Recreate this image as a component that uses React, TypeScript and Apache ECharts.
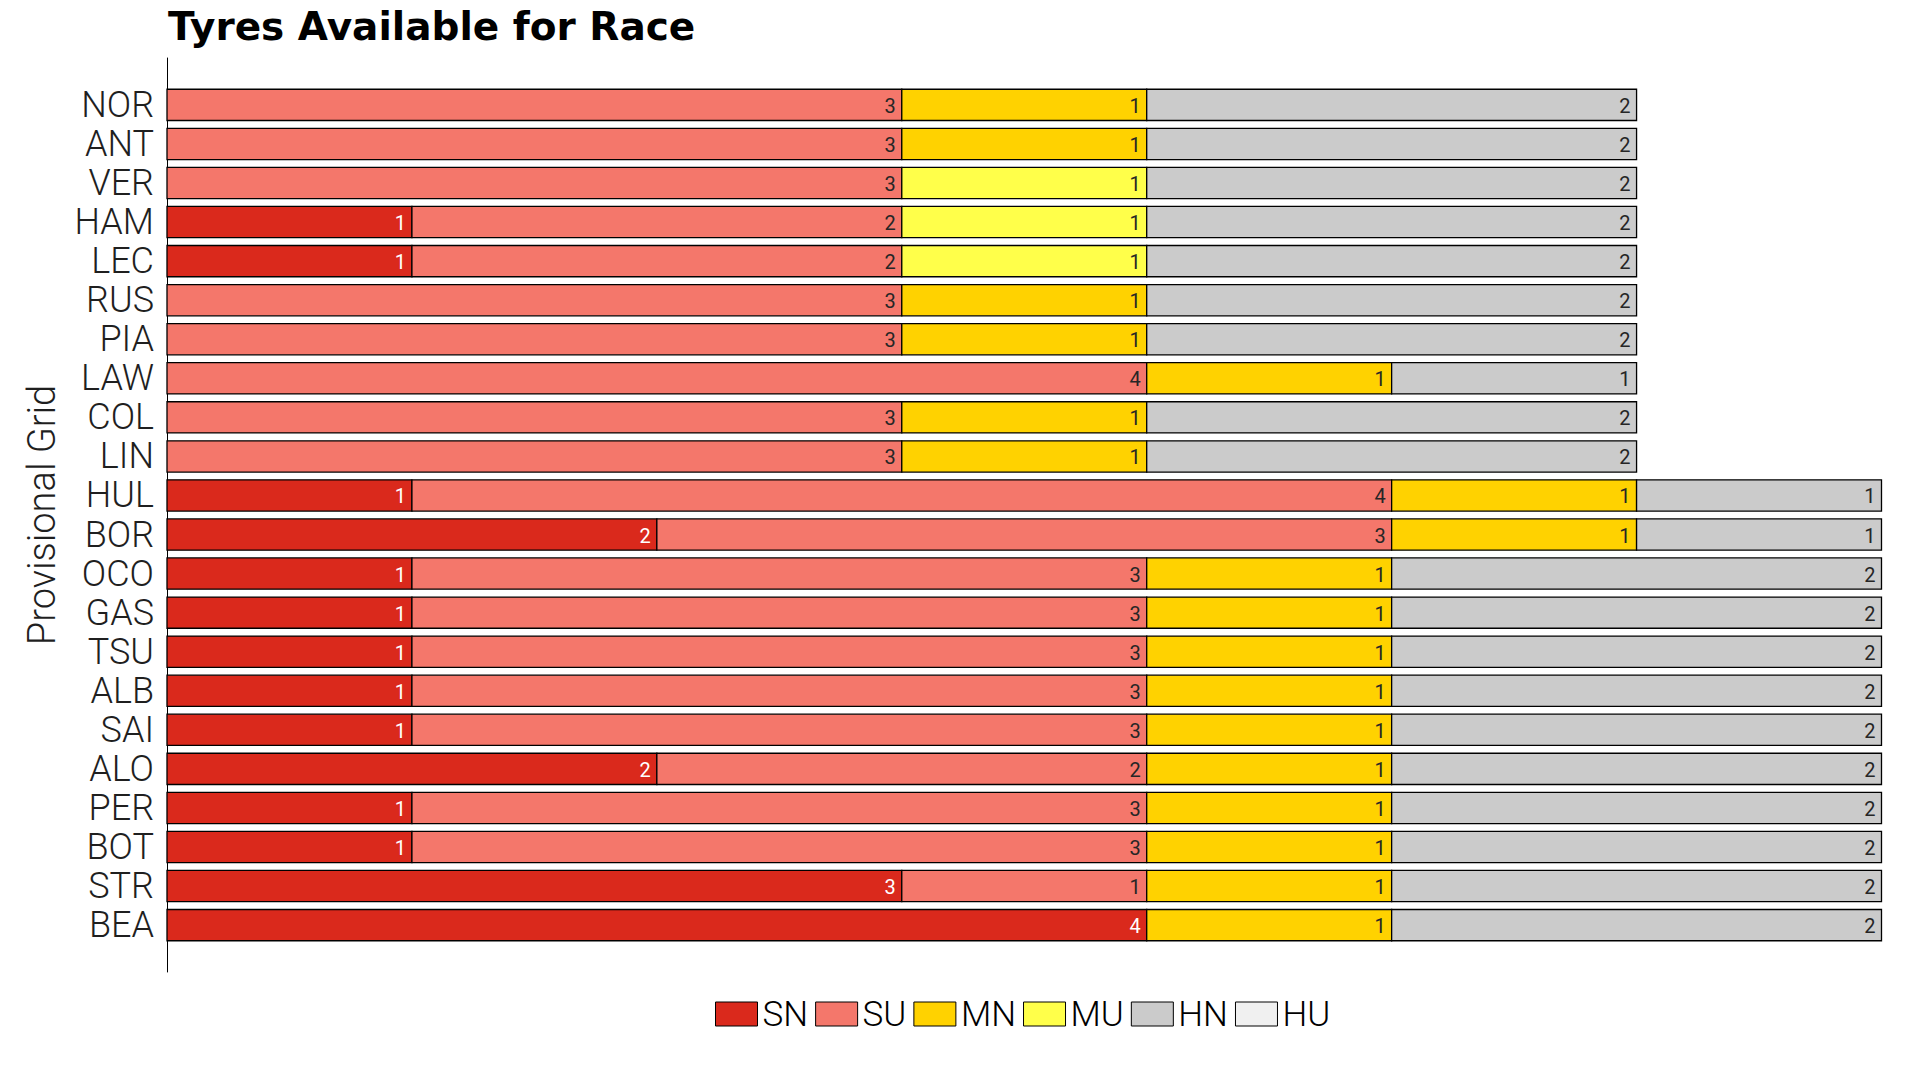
import React, { useEffect, useRef } from "react";
import * as echarts from "echarts";

const drivers = ["NOR","ANT","VER","HAM","LEC","RUS","PIA","LAW","COL","LIN","HUL","BOR","OCO","GAS","TSU","ALB","SAI","ALO","PER","BOT","STR","BEA"];
const compounds = ["SN", "SU", "MN", "MU", "HN", "HU"];
const SN = [0,0,0,1,1,0,0,0,0,0,1,2,1,1,1,1,1,2,1,1,3,4];
const SU = [3,3,3,2,2,3,3,4,3,3,4,3,3,3,3,3,3,2,3,3,1,0];
const MN = [1,1,0,0,0,1,1,1,1,1,1,1,1,1,1,1,1,1,1,1,1,1];
const MU = [0,0,1,1,1,0,0,0,0,0,0,0,0,0,0,0,0,0,0,0,0,0];
const HN = [2,2,2,2,2,2,2,1,2,2,1,1,2,2,2,2,2,2,2,2,2,2];
const HU = [0,0,0,0,0,0,0,0,0,0,0,0,0,0,0,0,0,0,0,0,0,0];
const values = [SN, SU, MN, MU, HN, HU];
const colors = ["#DA291C", "#F4776B", "#FFD200", "#FFFF4A", "#CBCBCB", "#F0F0F0"];
const labelColors = ["#FFFFFF", "#262626", "#262626", "#262626", "#262626", "#262626"];

export default function App() {
  const ref = useRef<HTMLDivElement>(null);
  useEffect(() => {
    if (!ref.current) return;
    const chart = echarts.init(ref.current, null, { renderer: "svg" });
    const starts = drivers.map(() => 0);
    const series = compounds.map((name, ci) => {
      const data: number[][] = [];
      values[ci].forEach((v, i) => {
        if (v > 0) {
          data.push([starts[i], starts[i] + v, i, v]);
          starts[i] += v;
        }
      });
      return {
        type: "custom",
        name,
        itemStyle: { color: colors[ci], borderColor: "#000", borderWidth: 1 },
        encode: { x: [0, 1], y: 2 },
        data,
        renderItem: (params: any, api: any) => {
          const s = api.value(0);
          const e = api.value(1);
          const row = api.value(2);
          const v = api.value(3);
          const p0 = api.coord([s, row]);
          const p1 = api.coord([e, row]);
          const h = api.size([0, 0.8])[1];
          return {
            type: "group",
            children: [
              {
                type: "rect",
                shape: { x: p0[0], y: p0[1] - h / 2, width: p1[0] - p0[0], height: h },
                style: { fill: colors[ci], stroke: "#000", lineWidth: 1.3 },
              },
              {
                type: "text",
                x: p1[0] - 6,
                y: p0[1] + 1,
                style: {
                  text: String(v),
                  align: "right",
                  verticalAlign: "middle",
                  fill: labelColors[ci],
                  fontSize: 20,
                  fontWeight: 400,
                  fontFamily: "Roboto",
                },
              },
            ],
          };
        },
      };
    });

    chart.setOption({
      animation: false,
      backgroundColor: "#fff",
      title: {
        text: "Tyres Available for Race",
        left: 163,
        top: 2,
        textStyle: { fontFamily: "DejaVu Sans", fontWeight: "bold", fontSize: 39, color: "#000" },
      },
      legend: {
        left: 710,
        top: 991,
        icon: "rect",
        itemWidth: 42,
        itemHeight: 24,
        itemGap: 7,
        itemStyle: { borderColor: "#000", borderWidth: 1 },
        textStyle: { fontFamily: "Roboto", fontWeight: 300, fontSize: 35, color: "#000", lineHeight: 36 },
        data: compounds,
      },
      grid: { left: 167, right: 38.5, top: 58, bottom: 108 },
      xAxis: { type: "value", min: 0, max: 7, show: false },
      yAxis: {
        type: "value",
        inverse: true,
        min: -1.2,
        max: 22.2,
        name: "Provisional Grid",
        nameLocation: "middle",
        nameRotate: 90,
        nameGap: 106,
        nameTextStyle: { fontFamily: "Roboto", fontWeight: 300, fontSize: 38, color: "#1f1f1f" },
        axisLine: { show: true, lineStyle: { color: "#000", width: 1 } },
        axisTick: { show: false },
        splitLine: { show: false },
        axisLabel: {
          customValues: drivers.map((_, i) => i),
          formatter: (v: number) => drivers[Math.round(v)] ?? "",
          margin: 13,
          fontFamily: "Roboto",
          fontWeight: 300,
          fontSize: 36,
          color: "#1f1f1f",
        },
      },
      series,
    });
    return () => chart.dispose();
  }, []);
  return <div ref={ref} style={{ position: "absolute", left: 0, top: 0, width: 1920, height: 1080 }} />;
}
